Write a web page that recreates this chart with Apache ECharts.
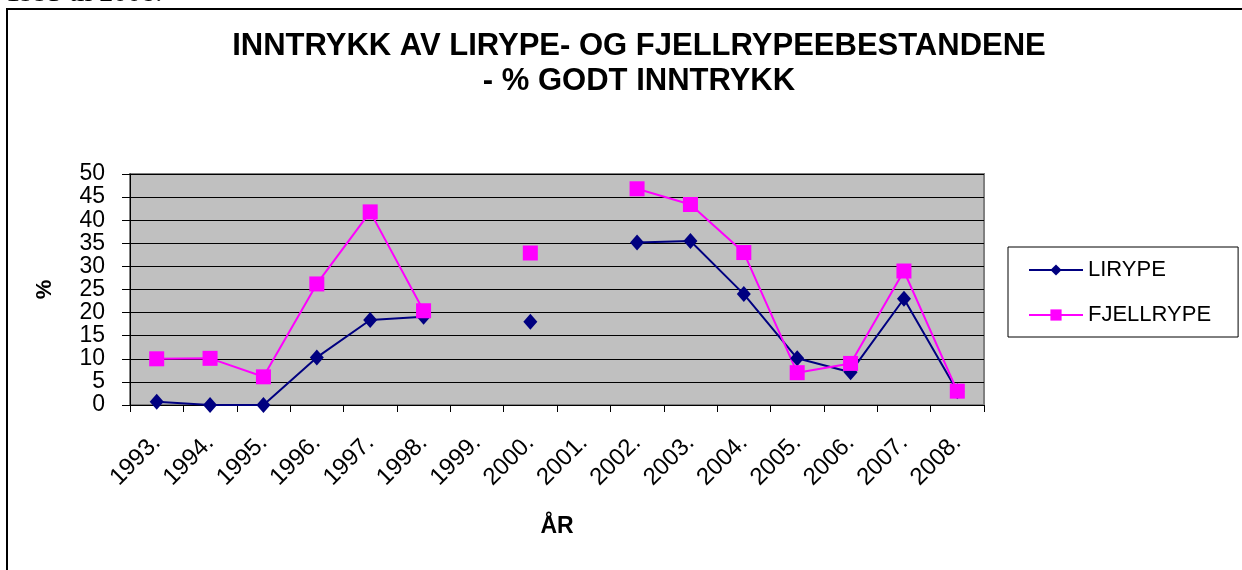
<!DOCTYPE html>
<html>
<head>
<meta charset="utf-8">
<script src="https://cdn.jsdelivr.net/npm/echarts@6/dist/echarts.min.js"></script>
<style>
  html, body { margin: 0; padding: 0; background: #fff; }
  #chart { width: 1242px; height: 570px; }
</style>
</head>
<body>
<div id="chart"></div>
<script>
// År (kategorier)
const years = ["1993.", "1994.", "1995.", "1996.", "1997.", "1998.", "1999.", "2000.",
  "2001.", "2002.", "2003.", "2004.", "2005.", "2006.", "2007.", "2008."];
// % godt inntrykk
const lirype = [0.7, 0, 0, 10.3, 18.4, 19.1, null, 18, null, 35.2, 35.5, 24, 10.1, 7.1, 23, 3];
const fjellrype = [10, 10.1, 6.1, 26.2, 41.8, 20.4, null, 32.9, null, 46.8, 43.4, 33, 7, 9, 29, 3];
const yTicks = [0, 50, 5]; // min, max, interval

const chart = echarts.init(document.getElementById("chart"));
chart.setOption({
  animation: false,
  backgroundColor: "#fff",
  title: {
    text: "INNTRYKK AV LIRYPE- OG FJELLRYPEEBESTANDENE\n- % GODT INNTRYKK",
    left: 634,
    textAlign: "center",
    top: 24,
    textStyle: {
      fontFamily: "Liberation Sans, Arial",
      fontWeight: "bold",
      fontSize: 31,
      lineHeight: 35,
      color: "#000"
    }
  },
  graphic: [
    {
      type: "rect",
      shape: { x: 7, y: 9, width: 1400, height: 700 },
      style: { fill: "none", stroke: "#000", lineWidth: 2 },
      silent: true
    },
    {
      type: "text",
      left: 6,
      top: -20,
      style: {
        text: "1993 til 2008.",
        font: "28px 'Liberation Serif', 'Times New Roman', serif",
        fill: "#000"
      },
      silent: true
    }
  ],
  legend: {
    orient: "vertical",
    left: 1008,
    top: 247,
    padding: [12, 27, 11, 20],
    itemGap: 23,
    itemWidth: 54,
    itemHeight: 14,
    borderColor: "#000",
    borderWidth: 1,
    textStyle: { fontFamily: "Liberation Sans, Arial", fontSize: 22, lineHeight: 22, color: "#000" },
    data: ["LIRYPE", "FJELLRYPE"]
  },
  grid: {
    left: 130,
    right: 258,
    top: 174,
    bottom: 165,
    show: true,
    backgroundColor: "#c0c0c0",
    borderColor: "#808080",
    borderWidth: 2
  },
  xAxis: {
    type: "category",
    data: years,
    name: "ÅR",
    nameLocation: "middle",
    nameGap: 110,
    nameTextStyle: { fontFamily: "Liberation Sans, Arial", fontWeight: "bold", fontSize: 23, color: "#000" },
    axisLine: { lineStyle: { color: "#000", width: 1 } },
    axisTick: { show: true, length: 7, lineStyle: { color: "#000" } },
    axisLabel: {
      rotate: 45,
      interval: 0,
      margin: 34,
      fontFamily: "Liberation Sans, Arial",
      fontSize: 24,
      color: "#000"
    }
  },
  yAxis: {
    type: "value",
    min: yTicks[0],
    max: yTicks[1],
    interval: yTicks[2],
    name: "%",
    nameLocation: "middle",
    nameGap: 74,
    nameRotate: 90,
    nameTextStyle: { fontFamily: "Liberation Sans, Arial", fontWeight: "bold", fontSize: 22, color: "#000" },
    axisLine: { show: true, lineStyle: { color: "#000", width: 1 } },
    axisTick: { show: true, length: 8, lineStyle: { color: "#000" } },
    axisLabel: {
      fontFamily: "Liberation Sans, Arial",
      fontSize: 23,
      color: "#000",
      margin: 25
    },
    splitLine: { show: true, lineStyle: { color: "#000", width: 1 } }
  },
  series: [
    {
      name: "LIRYPE",
      type: "line",
      data: lirype,
      connectNulls: false,
      symbol: "diamond",
      symbolSize: [14, 16],
      showAllSymbol: true,
      color: "#000080",
      lineStyle: { color: "#000080", width: 2 },
      itemStyle: { color: "#000080" }
    },
    {
      name: "FJELLRYPE",
      type: "line",
      data: fjellrype,
      connectNulls: false,
      symbol: "rect",
      symbolSize: 15,
      showAllSymbol: true,
      color: "#ff00ff",
      lineStyle: { color: "#ff00ff", width: 2 },
      itemStyle: { color: "#ff00ff" }
    }
  ]
});
</script>
</body>
</html>
